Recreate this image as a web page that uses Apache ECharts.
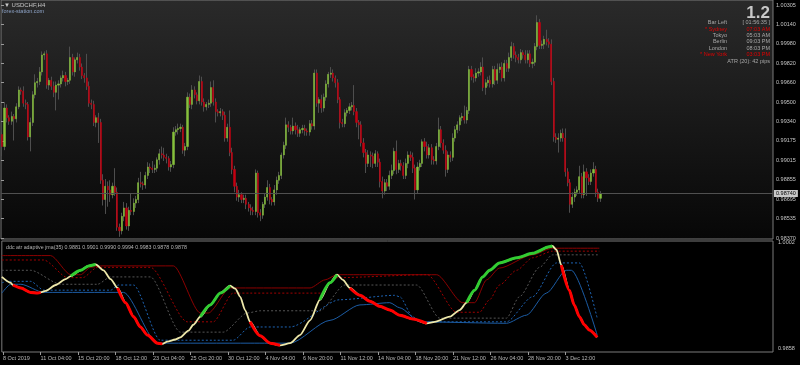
<!DOCTYPE html>
<html><head><meta charset="utf-8">
<script src="https://cdn.jsdelivr.net/npm/echarts/dist/echarts.min.js"></script>
<style>html,body{margin:0;padding:0;background:#000;}#c{width:800px;height:365px;}</style>
</head><body><div id="c"></div>
<script>
// ---------- price data (USDCHF H4) ----------
const closes = [
0.9913,0.9945,0.9937,0.9934,0.9938,0.9936,0.9946,0.9960,0.9959,0.9949,
0.9948,0.9921,0.9933,0.9956,0.9966,0.9967,0.9975,0.9989,0.9990,0.9964,
0.9968,0.9963,0.9958,0.9964,0.9965,0.9970,0.9972,0.9967,0.9968,0.9987,
0.9975,0.9985,0.9987,0.9979,0.9972,0.9970,0.9963,0.9949,0.9948,0.9933,
0.9937,0.9933,0.9885,0.9869,0.9880,0.9877,0.9873,0.9880,0.9875,0.9846,
0.9843,0.9855,0.9862,0.9847,0.9860,0.9859,0.9866,0.9869,0.9883,0.9882,
0.9881,0.9889,0.9896,0.9895,0.9894,0.9895,0.9902,0.9907,0.9906,0.9904,
0.9903,0.9896,0.9898,0.9925,0.9927,0.9928,0.9929,0.9910,0.9913,0.9954,
0.9948,0.9960,0.9956,0.9951,0.9967,0.9950,0.9946,0.9948,0.9949,0.9962,
0.9950,0.9942,0.9941,0.9942,0.9939,0.9920,0.9929,0.9908,0.9894,0.9880,
0.9871,0.9873,0.9869,0.9870,0.9865,0.9862,0.9860,0.9859,0.9891,0.9858,
0.9856,0.9865,0.9871,0.9879,0.9869,0.9867,0.9877,0.9885,0.9889,0.9906,
0.9914,0.9931,0.9929,0.9926,0.9930,0.9927,0.9924,0.9927,0.9928,0.9926,
0.9925,0.9932,0.9930,0.9974,0.9949,0.9952,0.9945,0.9954,0.9965,0.9973,
0.9974,0.9970,0.9966,0.9952,0.9933,0.9932,0.9941,0.9943,0.9946,0.9947,
0.9942,0.9933,0.9931,0.9916,0.9908,0.9899,0.9906,0.9905,0.9899,0.9907,
0.9900,0.9884,0.9876,0.9883,0.9880,0.9889,0.9893,0.9909,0.9894,0.9899,
0.9897,0.9889,0.9899,0.9906,0.9904,0.9895,0.9877,0.9896,0.9899,0.9917,
0.9913,0.9906,0.9912,0.9902,0.9901,0.9913,0.9927,0.9916,0.9910,0.9894,
0.9906,0.9904,0.9920,0.9927,0.9931,0.9937,0.9938,0.9935,0.9943,0.9977,
0.9971,0.9970,0.9974,0.9975,0.9979,0.9962,0.9966,0.9968,0.9965,0.9977,
0.9968,0.9977,0.9979,0.9970,0.9982,0.9978,0.9987,0.9996,0.9989,0.9987,
0.9985,0.9991,0.9989,0.9985,0.9990,0.9982,0.9983,0.9996,1.0016,0.9997,
0.9998,1.0002,1.0000,0.9998,0.9967,0.9921,0.9919,0.9920,0.9924,0.9920,
0.9892,0.9883,0.9865,0.9871,0.9875,0.9877,0.9888,0.9873,0.9892,0.9887,
0.9884,0.9891,0.9894,0.9875,0.9870,0.9874
];
const opens = [
0.9923,0.9913,0.9945,0.9937,0.9934,0.9938,0.9936,0.9946,0.9960,0.9959,
0.9949,0.9948,0.9921,0.9933,0.9956,0.9966,0.9967,0.9975,0.9989,0.9990,
0.9964,0.9968,0.9963,0.9958,0.9964,0.9965,0.9970,0.9972,0.9967,0.9968,
0.9987,0.9975,0.9985,0.9987,0.9979,0.9972,0.9970,0.9963,0.9949,0.9948,
0.9933,0.9937,0.9933,0.9885,0.9869,0.9880,0.9877,0.9873,0.9880,0.9875,
0.9846,0.9843,0.9855,0.9862,0.9847,0.9860,0.9859,0.9866,0.9869,0.9883,
0.9882,0.9881,0.9889,0.9896,0.9895,0.9894,0.9895,0.9902,0.9907,0.9906,
0.9904,0.9903,0.9896,0.9898,0.9925,0.9927,0.9928,0.9929,0.9910,0.9913,
0.9954,0.9948,0.9960,0.9956,0.9951,0.9967,0.9950,0.9946,0.9948,0.9949,
0.9962,0.9950,0.9942,0.9941,0.9942,0.9939,0.9920,0.9929,0.9908,0.9894,
0.9880,0.9871,0.9873,0.9869,0.9870,0.9865,0.9862,0.9860,0.9859,0.9891,
0.9858,0.9856,0.9865,0.9871,0.9879,0.9869,0.9867,0.9877,0.9885,0.9889,
0.9906,0.9914,0.9931,0.9929,0.9926,0.9930,0.9927,0.9924,0.9927,0.9928,
0.9926,0.9925,0.9932,0.9930,0.9974,0.9949,0.9952,0.9945,0.9954,0.9965,
0.9973,0.9974,0.9970,0.9966,0.9952,0.9933,0.9932,0.9941,0.9943,0.9946,
0.9947,0.9942,0.9933,0.9931,0.9916,0.9908,0.9899,0.9906,0.9905,0.9899,
0.9907,0.9900,0.9884,0.9876,0.9883,0.9880,0.9889,0.9893,0.9909,0.9894,
0.9899,0.9897,0.9889,0.9899,0.9906,0.9904,0.9895,0.9877,0.9896,0.9899,
0.9917,0.9913,0.9906,0.9912,0.9902,0.9901,0.9913,0.9927,0.9916,0.9910,
0.9894,0.9906,0.9904,0.9920,0.9927,0.9931,0.9937,0.9938,0.9935,0.9943,
0.9977,0.9971,0.9970,0.9974,0.9975,0.9979,0.9962,0.9966,0.9968,0.9965,
0.9977,0.9968,0.9977,0.9979,0.9970,0.9982,0.9978,0.9987,0.9996,0.9989,
0.9987,0.9985,0.9991,0.9989,0.9985,0.9990,0.9982,0.9983,0.9996,1.0016,
0.9997,0.9998,1.0002,1.0000,0.9998,0.9967,0.9921,0.9919,0.9920,0.9924,
0.9920,0.9892,0.9883,0.9865,0.9871,0.9875,0.9877,0.9888,0.9873,0.9892,
0.9887,0.9884,0.9891,0.9894,0.9875,0.9870
];
// wick lengths above / below the body, in pips
const wickUp = [
2,5,3,2,4,2,3,3,2,4, 3,2,4,3,7,3,4,3,2,3, 2,3,4,3,3,2,4,3,2,9, 3,2,4,3,3,2,20,4,3,3,
2,4,3,5,6,4,8,3,15,4, 3,3,5,4,3,14,4,3,4,9, 2,3,4,3,6,3,2,4,6,6, 3,2,3,4,3,4,3,2,3,4,
3,4,3,2,5,4,3,2,3,5, 6,3,2,3,2,3,3,14,4,3, 3,4,2,3,3,2,3,3,3,2, 3,2,3,6,3,2,4,3,3,2,
3,6,3,2,7,3,4,2,3,3, 2,3,3,3,3,2,4,3,3,2, 5,3,2,3,2,3,3,2,3,3, 17,3,2,3,4,3,4,3,3,3,
2,3,4,3,3,4,5,3,9,3, 3,3,4,3,3,4,3,4,3,2, 3,4,3,3,3,3,10,3,3,4, 3,3,4,3,3,2,3,9,3,3,
3,2,4,3,4,8,3,3,4,3, 3,5,3,4,3,3,4,4,3,3, 3,3,2,4,3,3,3,3,6,3, 3,3,8,3,4,3,3,4,3,4,
8,3,3,4,3,3,9,3,6,3, 3,3,6,3,3,2
];
const wickDn = [
8,3,4,3,3,18,3,2,3,3, 4,3,12,3,3,4,3,3,4,3, 4,3,4,15,12,3,3,4,3,3, 3,4,3,3,3,4,3,3,4,3,
4,17,3,5,12,14,6,3,3,3, 5,3,4,3,4,3,3,4,3,3, 4,3,3,4,3,3,3,4,3,3, 4,3,4,3,3,4,3,3,5,3,
3,4,3,3,3,3,4,3,3,3, 3,9,3,3,4,3,3,3,4,5, 3,4,3,3,4,3,4,3,3,4, 5,3,3,3,4,3,3,4,3,3,
3,3,4,3,3,4,3,3,3,4, 3,3,3,3,3,8,4,3,3,3, 3,3,4,3,5,3,3,3,3,3, 3,4,12,3,4,8,3,9,4,3,
4,5,6,3,4,3,3,3,4,3, 4,3,3,4,3,4,8,3,3,3, 4,3,3,4,3,3,3,4,3,6, 3,4,3,3,3,5,3,3,3,3,
3,4,3,3,3,3,6,3,3,3, 4,3,3,3,3,3,3,3,3,4, 3,3,3,3,3,3,4,3,3,3, 3,4,3,3,3,4,3,11,3,3,
4,3,7,3,4,3,3,3,3,15, 3,3,3,4,3,3
];
const currentPrice = 0.98740;
const barSlots = 329;
const priceTicks = ['0.98370','0.98535','0.98695','0.98855','0.99015','0.99175','0.99340','0.99500','0.99660','0.99820','0.99980','1.00140','1.00305'];
const xLabels = ['8 Oct 2019','11 Oct 04:00','15 Oct 20:00','18 Oct 12:00','23 Oct 04:00','25 Oct 20:00','30 Oct 12:00','4 Nov 04:00','6 Nov 20:00','11 Nov 12:00','14 Nov 04:00','18 Nov 20:00','21 Nov 12:00','26 Nov 04:00','28 Nov 20:00','3 Dec 12:00'];
const indLabels = ['0.9858','1.0002'];
const indTitle = 'ddc atr adaptive jma(35) 0.9881 0.9901 0.9990 0.9994 0.9983 0.9878 0.9878';

// ---------- indicator data (bar index, value) ----------
const mainIdx = [-0.5,3.3,4.2,7.6,11.8,14.8,16.1,18.2,22.5,26.7,28.9,33.1,36.5,39.5,42.9,45.9,48.9,52.3,55.7,58.6,61.6,65.9,68.0,70.1,73.5,75.7,79.1,81.2,84.2,88.4,92.7,96.9,99.1,101.2,103.3,105.4,
109.7,114.0,118.2,122.5,126.7,131.0,135.2,139.5,142.5,145.0,148.0,152.3,156.5,160.8,165.0,169.3,174.8,180.8,184.2,190.6,194.8,197.8,201.2,204.6,207.6,211.8,219.1,225.9,233.1,234.4,236.1,238.2,241.6,243.7,245.9,248.0,250.1,253.5];
const mainVal = [0.9955,0.9947,0.9944,0.9940,0.9934,0.9933,0.9934,0.9936,0.9944,0.9952,0.9956,0.9964,0.9970,0.9972,0.9964,0.9952,0.9940,0.9920,0.9901,0.9887,0.9876,0.9865,0.9864,0.9867,0.9870,0.9873,0.9882,0.9890,0.9901,0.9917,0.9933,0.9943,0.9939,0.9928,0.9910,0.9894,
0.9875,0.9865,0.9862,0.9865,0.9876,0.9896,0.9924,0.9947,0.9958,0.9951,0.9940,0.9930,0.9922,0.9915,0.9910,0.9903,0.9898,0.9892,0.9894,0.9901,0.9910,0.9920,0.9937,0.9955,0.9964,0.9974,0.9981,0.9987,0.9996,0.9997,0.9992,0.9971,0.9937,0.9917,0.9901,0.9890,0.9883,0.9873];
const redRanges = [[4.2,16.1],[48.9,68.0],[105.4,118.2],[148.0,180.8],[238.2,253.5]];
const greenRanges = [[28.9,39.5],[84.2,96.9],[135.2,142.5],[197.8,234.4]];

const upIdx = [-0.5,20.3,28.9,33.1,37.4,41.6,72.7,84.2,87.6,96.9,105.4,131.0,137.4,142.5,185.0,196.1,201.2,206.3,211.8,225.9,234.4,254.4];
const upVal = [0.9984,0.9984,0.9958,0.9958,0.9968,0.9970,0.9970,0.9906,0.9906,0.9940,0.9940,0.9940,0.9951,0.9958,0.9958,0.9920,0.9920,0.9951,0.9967,0.9985,0.9994,0.9994];
const upDotIdx = [-0.5,17.4,27.6,34.0,40.3,62.9,78.6,89.7,98.2,105.4,135.2,142.5,181.0,193.5,203.3,207.6,211.8,219.1,225.9,234.4,254.4];
const upDotVal = [0.9978,0.9978,0.9954,0.9954,0.9968,0.9968,0.9894,0.9894,0.9933,0.9933,0.9933,0.9954,0.9958,0.9907,0.9907,0.9924,0.9944,0.9964,0.9981,0.9990,0.9990];
const midIdx = [-0.5,11.8,24.6,40.3,45.9,62.9,75.7,94.0,104.2,109.7,135.2,145.8,176.5,186.3,214.8,220.3,228.9,234.4,254.4];
const midVal = [0.9964,0.9964,0.9945,0.9945,0.9955,0.9955,0.9880,0.9880,0.9906,0.9909,0.9909,0.9944,0.9944,0.9899,0.9899,0.9928,0.9968,0.9985,0.9985];
const lowDotIdx = [-0.5,2.0,11.8,17.4,45.9,49.3,55.7,67.1,98.2,105.4,122.5,143.7,167.1,169.3,174.8,177.8,214.8,225.9,236.1,245.9,253.5];
const lowDotVal = [0.9947,0.9949,0.9949,0.9937,0.9937,0.9944,0.9944,0.9869,0.9869,0.9887,0.9887,0.9924,0.9930,0.9928,0.9901,0.9894,0.9894,0.9928,0.9974,0.9974,0.9899];
const lowIdx = [-0.5,3.3,7.6,17.4,51.4,65.9,105.4,122.5,139.5,152.3,165.0,169.3,177.8,214.8,223.3,231.8,240.3,242.5,253.5];
const lowVal = [0.9933,0.9945,0.9945,0.9934,0.9934,0.9865,0.9865,0.9865,0.9896,0.9917,0.9920,0.9913,0.9894,0.9892,0.9903,0.9933,0.9964,0.9964,0.9876];

// ---------- build ----------
const PIP = 0.0001;
const FONT = 'Liberation Sans';
const cats = Array.from({length: barSlots}, (_, i) => String(i));
const wickData = closes.map((c, i) => { const o = opens[i]; return [o, c, Math.min(o, c) - (wickDn[i] || 0) * PIP, Math.max(o, c) + (wickUp[i] || 0) * PIP]; });
const bodyData = closes.map((c, i) => { const o = opens[i]; return [o, c, Math.min(o, c), Math.max(o, c)]; });
const pts = (xs, vs) => xs.map((x, k) => [x, vs[k]]);
const inR = (x, rs) => rs.some(r => x >= r[0] - 1e-6 && x <= r[1] + 1e-6);
const colored = rs => mainIdx.map((x, k) => [x, inR(x, rs) ? mainVal[k] : '-']);
const tickShow = i => i % 16 === 0 && i / 16 < xLabels.length;
const lineS = (data, color, type, width) => ({type: 'line', xAxisIndex: 2, yAxisIndex: 1, data, symbol: 'none', smooth: 0.25, smoothMonotone: 'x', silent: true, lineStyle: {color, type, width}});

const chart = echarts.init(document.getElementById('c'), null, {renderer: 'canvas', width: 800, height: 365});
const txt = (text, x, y, fill, size, align, weight) => ({type: 'text', x, y, z: 100, silent: true,
  style: {text, fill, font: (weight || 'normal') + ' ' + size + 'px "' + FONT + '"', align: align || 'left', verticalAlign: 'middle'}});

chart.setOption({
  animation: false,
  backgroundColor: '#000',
  grid: [
    {left: 1, right: 27, top: 0, height: 239, show: true, borderColor: '#7a7a7a', borderWidth: 1,
     backgroundColor: {type: 'linear', x: 0, y: 0, x2: 0, y2: 1, colorStops: [{offset: 0, color: '#2a2a2a'}, {offset: 1, color: '#070707'}]}},
    {left: 1, right: 27, top: 241, height: 111, show: true, borderColor: '#7a7a7a', borderWidth: 1, backgroundColor: '#000'},
    {left: 1, right: 27, top: 5, height: 233, show: false},
    {left: 1, right: 27, top: 242.3, height: 106, show: false}
  ],
  xAxis: [
    {gridIndex: 0, type: 'category', data: cats, show: false},
    {gridIndex: 1, type: 'category', data: cats, position: 'bottom',
     axisLine: {show: false},
     axisTick: {show: true, interval: (i) => tickShow(i), alignWithLabel: true, length: 3, lineStyle: {color: '#9a9a9a'}},
     axisLabel: {interval: (i) => tickShow(i), formatter: (v) => xLabels[Number(v) / 16], color: '#b8b8b8', fontSize: 5.5, fontFamily: FONT, align: 'left', margin: 3},
     splitLine: {show: false}},
    {gridIndex: 1, type: 'value', min: -0.5, max: barSlots - 0.5, show: false},
    {gridIndex: 2, type: 'value', min: 0, max: 1, show: false},
    {gridIndex: 3, type: 'value', min: 0, max: 1, show: false},
    {gridIndex: 0, type: 'value', min: 0, max: 1, show: false}
  ],
  yAxis: [
    {gridIndex: 0, type: 'value', min: 0.98362, max: 1.00347, show: false},
    {gridIndex: 1, type: 'value', min: 0.98530, max: 1.00038, show: false},
    {gridIndex: 2, type: 'value', position: 'right', min: 0, max: priceTicks.length - 1, interval: 1,
     axisLine: {show: false}, axisTick: {show: true, length: 3, lineStyle: {color: '#9a9a9a'}},
     axisLabel: {formatter: (v) => priceTicks[Math.round(v)], color: '#c4c4c4', fontSize: 5.5, fontFamily: FONT, margin: 3},
     splitLine: {show: false}},
    {gridIndex: 3, type: 'value', position: 'right', min: 0, max: 1, interval: 1,
     axisLine: {show: false}, axisTick: {show: false},
     axisLabel: {formatter: (v) => indLabels[Math.round(v)], color: '#c4c4c4', fontSize: 5.5, fontFamily: FONT, margin: 5},
     splitLine: {show: false}}
  ],
  series: [
    {type: 'line', xAxisIndex: 5, yAxisIndex: 0, data: [], silent: true, z: 1,
     markLine: {symbol: 'none', silent: true, precision: 5, data: [{yAxis: currentPrice}], lineStyle: {color: '#505050', type: 'solid', width: 1},
       label: {position: 'end', formatter: () => currentPrice.toFixed(5), backgroundColor: '#c8c8c8', color: '#000', fontSize: 5.5, fontFamily: FONT, padding: [1, 2, 0, 2], distance: 1}}},
    {type: 'candlestick', xAxisIndex: 0, yAxisIndex: 0, data: wickData, barWidth: 1, silent: true, z: 2,
     itemStyle: {color: '#4e4e4e', color0: '#4e4e4e', borderColor: '#4e4e4e', borderColor0: '#4e4e4e', borderColorDoji: '#4e4e4e', borderWidth: 1}},
    {type: 'candlestick', xAxisIndex: 0, yAxisIndex: 0, data: bodyData, barWidth: 1.6, silent: true, z: 3,
     itemStyle: {color: '#86c03c', color0: '#c40010', borderColor: '#86c03c', borderColor0: '#c40010', borderColorDoji: '#86c03c', borderWidth: 0.5}},
    lineS(pts(upIdx, upVal), '#8b0000', 'solid', 1),
    lineS(pts(upDotIdx, upDotVal), '#a00000', [2, 2], 1),
    lineS(pts(midIdx, midVal), '#555555', [2, 2], 1),
    lineS(pts(lowDotIdx, lowDotVal), '#1e64b4', [2, 2], 1),
    lineS(pts(lowIdx, lowVal), '#1c5ca4', 'solid', 1),
    lineS(pts(mainIdx, mainVal), '#eee8aa', 'solid', 1.8),
    lineS(colored(redRanges), '#ff0000', 'solid', 3),
    lineS(colored(greenRanges), '#32cd32', 'solid', 3),
    {type: 'line', xAxisIndex: 3, yAxisIndex: 2, data: [], silent: true},
    {type: 'line', xAxisIndex: 4, yAxisIndex: 3, data: [], silent: true}
  ],
  graphic: [
    txt('\u25BC USDCHF,H4', 4, 5, '#c8c8c8', 6, 'left'),
    txt('forex-station.com', 2, 11, '#8ea4c8', 5.5, 'left'),
    txt('1.2', 770, 13, '#c8c8c8', 17, 'right', 'bold'),
    txt('Bar Left', 727, 22.7, '#a8a8a8', 5.5, 'right'),
    txt('[ 01:56:35 ]', 770, 22.7, '#a8a8a8', 5.5, 'right'),
    txt('* Sydney', 727, 29, '#e00000', 5.5, 'right'),
    txt('07:03 AM', 770, 29, '#e00000', 5.5, 'right'),
    txt('Tokyo', 727, 35.3, '#a8a8a8', 5.5, 'right'),
    txt('05:03 AM', 770, 35.3, '#a8a8a8', 5.5, 'right'),
    txt('Berlin', 727, 41.7, '#a8a8a8', 5.5, 'right'),
    txt('09:03 PM', 770, 41.7, '#a8a8a8', 5.5, 'right'),
    txt('London', 727, 48, '#a8a8a8', 5.5, 'right'),
    txt('08:03 PM', 770, 48, '#a8a8a8', 5.5, 'right'),
    txt('* New York', 727, 54.3, '#e00000', 5.5, 'right'),
    txt('03:03 PM', 770, 54.3, '#e00000', 5.5, 'right'),
    txt('ATR (20): 42 pips', 770, 61.7, '#a8a8a8', 5.5, 'right'),
    txt(indTitle, 6, 247.5, '#b4b4b4', 5.3, 'left')
  ]
});
</script></body></html>
